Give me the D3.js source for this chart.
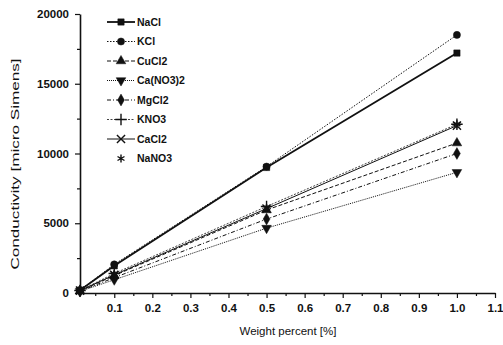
<!DOCTYPE html>
<html>
<head>
<meta charset="utf-8">
<script src="https://cdn.jsdelivr.net/npm/d3@7"></script>
<style>
  body { margin: 0; background: #fff; }
  svg text { font-family: "Liberation Sans", Arial, sans-serif; fill: #111; }
</style>
</head>
<body>
<div id="chart"></div>
<script>
// weight percent values where conductivity was measured
const weights = [0.01, 0.1, 0.5, 1.0];
const salts = ["NaCl", "KCl", "CuCl2", "Ca(NO3)2", "MgCl2", "KNO3", "CaCl2", "NaNO3"];
const naclValues   = [200, 1950, 9000, 17200];
const kclValues    = [210, 2050, 9060, 18500];
const cucl2Values  = [150, 1250, 5950, 10750];
const canoValues   = [120, 950, 4650, 8650];
const mgcl2Values  = [130, 1100, 5300, 10000];
const kno3Values   = [180, 1400, 6200, 12100];
const cacl2Values  = [170, 1300, 6050, 12000];
const nano3Values  = [170, 1350, 6100, 12100];
const xTicks = [0.1, 0.2, 0.3, 0.4, 0.5, 0.6, 0.7, 0.8, 0.9, 1.0, 1.1];
const yTicks = [0, 5000, 10000, 15000, 20000];

const width = 503, height = 345;

const svg = d3.select("#chart").append("svg")
  .attr("width", width)
  .attr("height", height);

const x = d3.scaleLinear().domain([0.01, 1.1]).range([80, 495]);
const y = d3.scaleLinear().domain([0, 20000]).range([293, 14]);

// symbol helpers (fallbacks in case of an older d3 v7 build)
const symX = d3.symbolX || d3.symbolTimes || d3.symbolCross;
const symPlus = d3.symbolPlus || d3.symbolCross;
const symAst = d3.symbolAsterisk || d3.symbolCross;

const values = [naclValues, kclValues, cucl2Values, canoValues, mgcl2Values, kno3Values, cacl2Values, nano3Values];
const styles = [
  {sym: d3.symbolSquare, rot: 0, dash: null, w: 1.8, fill: true, line: true},
  {sym: d3.symbolCircle, rot: 0, dash: "1.5,1.5", w: 1, fill: true, line: true},
  {sym: d3.symbolTriangle, rot: 0, dash: "4,2", w: 1, fill: true, line: true},
  {sym: d3.symbolTriangle, rot: 180, dash: "1,1", w: 1, fill: true, line: true},
  {sym: d3.symbolDiamond, rot: 0, dash: "4,2,1,2", w: 1, fill: true, line: true},
  {sym: symPlus, rot: 0, dash: "2,1.5", w: 0.8, fill: false, line: true},
  {sym: symX, rot: 0, dash: null, w: 1, fill: false, line: true},
  {sym: symAst, rot: 0, dash: null, w: 1, fill: false, line: false}
];
const series = salts.map((name, i) => ({
  name, style: styles[i],
  points: weights.map((w, j) => ({w, v: values[i][j]}))
}));

// axes
svg.append("g")
  .attr("transform", `translate(0,${y(0)})`)
  .call(d3.axisBottom(x).tickValues(xTicks).tickFormat(d3.format(".1f"))
    .tickSize(5).tickSizeOuter(0).tickPadding(6));
svg.append("g")
  .attr("transform", `translate(0,${y(0)})`)
  .call(d3.axisBottom(x).tickValues(d3.range(0.05, 1.1, 0.1)).tickFormat("")
    .tickSize(3).tickSizeOuter(0))
  .select(".domain").remove();

svg.append("g")
  .attr("transform", `translate(${x(0.01)},0)`)
  .call(d3.axisLeft(y).tickValues(yTicks).tickFormat(d3.format("d"))
    .tickSize(5).tickSizeOuter(0).tickPadding(6));
svg.append("g")
  .attr("transform", `translate(${x(0.01)},0)`)
  .call(d3.axisLeft(y).tickValues([2500, 7500, 12500, 17500]).tickFormat("")
    .tickSize(3).tickSizeOuter(0))
  .select(".domain").remove();

svg.selectAll(".domain").attr("stroke-width", 1.6).attr("stroke", "#111");
svg.selectAll(".tick line").attr("stroke-width", 1.2).attr("stroke", "#111");
svg.selectAll(".tick text").attr("font-size", 11.5).attr("font-weight", "bold")
  .attr("font-family", '"Liberation Sans", Arial, sans-serif').attr("fill", "#111");

// axis titles
svg.append("text")
  .attr("x", 288).attr("y", 335)
  .attr("text-anchor", "middle")
  .attr("font-size", 11.5)
  .text("Weight percent [%]");
svg.append("text")
  .attr("transform", "translate(19,164) rotate(-90) scale(1.49,1)")
  .attr("text-anchor", "middle")
  .attr("font-size", 11.5)
  .text("Conductivity [micro Simens]");

// lines
const line = d3.line().x(d => x(d.w)).y(d => y(d.v));
svg.append("g").selectAll("path")
  .data(series.filter(s => s.style.line))
  .join("path")
  .attr("d", d => line(d.points))
  .attr("fill", "none")
  .attr("stroke", "#111")
  .attr("stroke-width", d => d.style.w)
  .attr("stroke-dasharray", d => d.style.dash);

function drawMarker(g, s, cx, cy) {
  g.append("path")
    .attr("d", d3.symbol().type(s.style.sym).size(s.style.fill ? 40 : 45)())
    .attr("transform", `translate(${cx},${cy}) rotate(${s.style.rot})`)
    .attr("fill", s.style.fill ? "#111" : "none")
    .attr("stroke", "#111")
    .attr("stroke-width", s.style.fill ? 0.5 : 1.4);
}

// markers
const markers = svg.append("g");
series.forEach(s => {
  s.points.forEach(p => drawMarker(markers, s, x(p.w), y(p.v)));
});

// legend
const legend = svg.append("g");
series.forEach((s, i) => {
  const ly = 22 + i * 19.5;
  if (s.style.line) {
    legend.append("line")
      .attr("x1", 107).attr("x2", 135).attr("y1", ly).attr("y2", ly)
      .attr("stroke", "#111")
      .attr("stroke-width", s.style.w)
      .attr("stroke-dasharray", s.style.dash);
  }
  drawMarker(legend, s, 121, ly);
  legend.append("text")
    .attr("x", 137).attr("y", ly)
    .attr("dy", "0.35em")
    .attr("font-size", 10.5)
    .attr("font-weight", "bold")
    .text(s.name);
});
</script>
</body>
</html>
